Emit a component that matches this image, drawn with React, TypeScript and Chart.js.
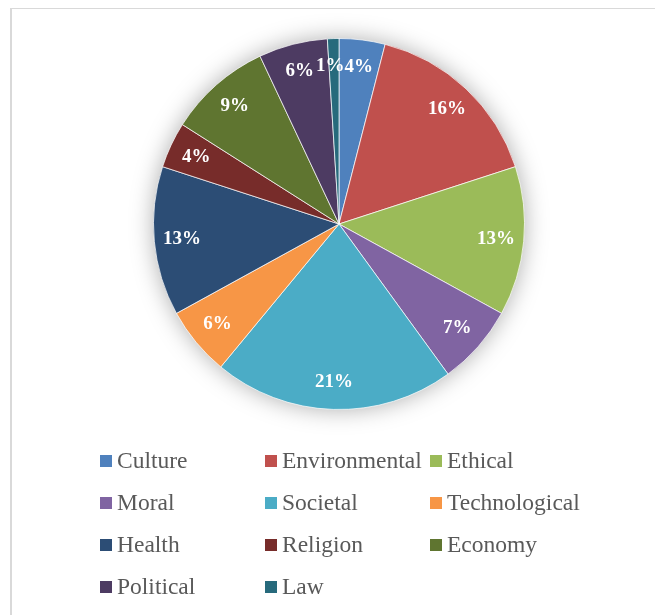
import React, { useEffect, useRef } from "react";
import { Chart, registerables } from "chart.js";

Chart.register(...registerables);

const categories = [
  "Culture",
  "Environmental",
  "Ethical",
  "Moral",
  "Societal",
  "Technological",
  "Health",
  "Religion",
  "Economy",
  "Political",
  "Law",
];
const shares = [4, 16, 13, 7, 21, 6, 13, 4, 9, 6, 1];
const sliceColors = [
  "#4F81BD",
  "#C0504D",
  "#9BBB59",
  "#8064A2",
  "#4BACC6",
  "#F79646",
  "#2C4D75",
  "#772C2A",
  "#5F7530",
  "#4D3B62",
  "#276A7C",
];

const W = 655;
const H = 607;
const LEGEND_FONT = "23.5px 'Liberation Serif', serif";
const LABEL_FONT = "bold 19px 'Liberation Serif', serif";

const framePlugin = {
  id: "frame",
  beforeDraw(chart: any) {
    const ctx = chart.ctx;
    ctx.save();
    ctx.fillStyle = "#ffffff";
    ctx.fillRect(0, 0, W, H);
    ctx.fillStyle = "#d9d9d9";
    ctx.fillRect(2, 0, 2, H);
    ctx.fillRect(2, 0, W - 2, 1);
    ctx.restore();
  },
};

const shadowPlugin = {
  id: "pieShadow",
  beforeDatasetsDraw(chart: any) {
    const meta = chart.getDatasetMeta(0);
    const arc = meta.data[0];
    if (!arc) return;
    const { x, y, outerRadius } = arc.getProps(["x", "y", "outerRadius"], true);
    const ctx = chart.ctx;
    ctx.save();
    ctx.shadowColor = "rgba(0,0,0,0.35)";
    ctx.shadowBlur = 24;
    ctx.fillStyle = "#ffffff";
    ctx.beginPath();
    ctx.arc(x, y, outerRadius - 1, 0, Math.PI * 2);
    ctx.fill();
    ctx.restore();
  },
};

const labelPlugin = {
  id: "sliceLabels",
  afterDatasetsDraw(chart: any) {
    const ctx = chart.ctx;
    const meta = chart.getDatasetMeta(0);
    const data = chart.data.datasets[0].data as number[];
    const total = data.reduce((a, b) => a + b, 0);
    ctx.save();
    ctx.font = LABEL_FONT;
    ctx.fillStyle = "#ffffff";
    ctx.textAlign = "center";
    ctx.textBaseline = "middle";
    const placed: { x: number; y: number; w: number; h: number }[] = [];
    meta.data.forEach((arc: any, i: number) => {
      const p = arc.getProps(["x", "y", "startAngle", "endAngle", "outerRadius"], true);
      const mid = (p.startAngle + p.endAngle) / 2;
      const r = p.outerRadius * 0.85;
      let lx = p.x + Math.cos(mid) * r;
      const ly = p.y + Math.sin(mid) * r;
      const text = Math.round((data[i] / total) * 100) + "%";
      const w = ctx.measureText(text).width;
      const h = 16;
      for (const b of placed) {
        if (Math.abs(b.y - ly) < h && Math.abs(b.x - lx) < (b.w + w) / 2) {
          lx = lx < b.x ? b.x - (b.w + w) / 2 : b.x + (b.w + w) / 2;
        }
      }
      placed.push({ x: lx, y: ly, w, h });
      ctx.fillText(text, lx, ly);
    });
    ctx.restore();
  },
};

const legendPlugin = {
  id: "gridLegend",
  afterDraw(chart: any) {
    const ctx = chart.ctx;
    const colX = [92, 257, 422];
    const rowY = [453, 495, 537, 579];
    ctx.save();
    ctx.font = LEGEND_FONT;
    ctx.textAlign = "left";
    ctx.textBaseline = "alphabetic";
    categories.forEach((name, i) => {
      const cx = colX[i % 3];
      const cy = rowY[Math.floor(i / 3)];
      ctx.fillStyle = sliceColors[i];
      ctx.fillRect(cx, cy - 6, 12, 12);
      ctx.fillStyle = "#595959";
      ctx.fillText(name, cx + 17, cy + 6.5);
    });
    ctx.restore();
  },
};

export default function App() {
  const ref = useRef<HTMLCanvasElement | null>(null);
  useEffect(() => {
    if (!ref.current) return;
    const chart = new Chart(ref.current, {
      type: "pie",
      data: {
        labels: categories,
        datasets: [
          {
            data: shares,
            backgroundColor: sliceColors,
            borderColor: "rgba(255,255,255,0.7)",
            borderWidth: 1,
          },
        ],
      },
      options: {
        responsive: false,
        animation: false,
        layout: { padding: { top: 30, bottom: 205, left: 145, right: 138 } },
        plugins: {
          legend: { display: false },
          tooltip: { enabled: false },
        },
      },
      plugins: [framePlugin, shadowPlugin, labelPlugin, legendPlugin],
    });
    return () => chart.destroy();
  }, []);
  return (
    <div style={{ width: W, height: H }}>
      <canvas ref={ref} width={W} height={H} style={{ display: "block" }} />
    </div>
  );
}
